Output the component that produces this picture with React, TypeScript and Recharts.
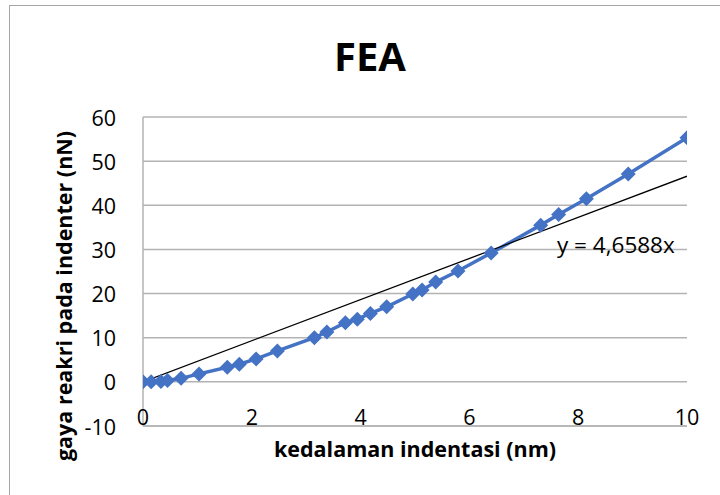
import { ComposedChart, Line, XAxis, YAxis, CartesianGrid } from 'recharts';

// indentation depth (nm) and reaction force (nN)
const depth = [0, 0.15, 0.33, 0.45, 0.7, 1.03, 1.55, 1.77, 2.08, 2.47, 3.15, 3.38, 3.72, 3.94, 4.18, 4.48, 4.96, 5.13, 5.38, 5.79, 6.4, 7.31, 7.64, 8.15, 8.92, 10.0];
const force = [0, 0, 0.1, 0.3, 0.8, 1.8, 3.3, 4.0, 5.2, 7.0, 10.0, 11.3, 13.4, 14.2, 15.5, 17.0, 19.9, 20.8, 22.6, 25.1, 29.2, 35.5, 37.9, 41.5, 47.1, 55.3];

// linear trendline through the origin, y = 4,6588x
const trendX = [0, 10];
const trendY = [0, 46.588];

const xTicks = [0, 2, 4, 6, 8, 10];
const yTicks = [-10, 0, 10, 20, 30, 40, 50, 60];

const points = depth.map((x, i) => ({ x, y: force[i] }));
const trend = trendX.map((x, i) => ({ x, t: trendY[i] }));

const FONT = '"Open Sans", Lato, sans-serif';
const GRID = '#b3b3b3';
const BLUE = '#4472C4';

const Diamond = (props: any) => {
  const { cx, cy } = props;
  if (cx == null || cy == null) return null;
  const r = 7.5;
  return <path d={`M${cx},${cy - r}L${cx + r},${cy}L${cx},${cy + r}L${cx - r},${cy}Z`} fill={BLUE} />;
};

const XTick = (props: any) => {
  const { x, y, payload } = props;
  return (
    <text x={x} y={y - 3} textAnchor="middle" fontSize={21.5} fontFamily={FONT} fill="#000">
      {payload.value}
    </text>
  );
};

const YTick = (props: any) => {
  const { x, y, payload } = props;
  return (
    <text x={x - 25} y={y} textAnchor="end" dominantBaseline="central" fontSize={21.5} fontFamily={FONT} fill="#000">
      {payload.value}
    </text>
  );
};

export default function App() {
  return (
    <div style={{ position: 'absolute', left: 0, top: 0, width: 720, height: 495, background: '#fff', overflow: 'hidden' }}>
      <div style={{ position: 'absolute', left: 9, top: 5, width: 760, height: 560, border: '1.5px solid #a6a6a6' }} />
      <ComposedChart width={720} height={495} margin={{ top: 117, right: 33, bottom: 39, left: 0 }}>
        <CartesianGrid horizontal vertical={false} stroke={GRID} strokeWidth={1.5} />
        <XAxis
          type="number"
          dataKey="x"
          domain={[0, 10]}
          ticks={xTicks}
          allowDataOverflow
          height={30}
          tickSize={0}
          tickLine={false}
          axisLine={{ stroke: GRID, strokeWidth: 1.5 }}
          tick={<XTick />}
        />
        <YAxis
          type="number"
          domain={[-10, 60]}
          ticks={yTicks}
          width={143}
          tickSize={0}
          tickLine={false}
          axisLine={{ stroke: GRID, strokeWidth: 1.5 }}
          tick={<YTick />}
        />
        <Line
          data={points}
          dataKey="y"
          type="linear"
          stroke={BLUE}
          strokeWidth={3.5}
          dot={<Diamond />}
          activeDot={false}
          isAnimationActive={false}
        />
        <Line
          data={trend}
          dataKey="t"
          type="linear"
          stroke="#000"
          strokeWidth={1.3}
          dot={false}
          activeDot={false}
          isAnimationActive={false}
        />
      </ComposedChart>
      <div style={{ position: 'absolute', left: 0, width: 740, top: 31, textAlign: 'center', fontFamily: FONT, fontWeight: 700, fontSize: 40, lineHeight: '50px' }}>
        FEA
      </div>
      <div style={{ position: 'absolute', left: 557, top: 230, fontFamily: FONT, fontSize: 22.5, lineHeight: '30px', whiteSpace: 'nowrap' }}>
        y = 4,6588x
      </div>
      <div style={{ position: 'absolute', left: 215, width: 400, top: 434, textAlign: 'center', fontFamily: FONT, fontWeight: 700, fontSize: 21.5, lineHeight: '30px', whiteSpace: 'nowrap' }}>
        kedalaman indentasi (nm)
      </div>
      <div
        style={{
          position: 'absolute',
          left: 64,
          top: 296,
          transform: 'translate(-50%, -50%) rotate(-90deg)',
          fontFamily: FONT,
          fontWeight: 700,
          fontSize: 21.5,
          lineHeight: '30px',
          whiteSpace: 'nowrap',
        }}
      >
        gaya reakri pada indenter (nN)
      </div>
    </div>
  );
}
